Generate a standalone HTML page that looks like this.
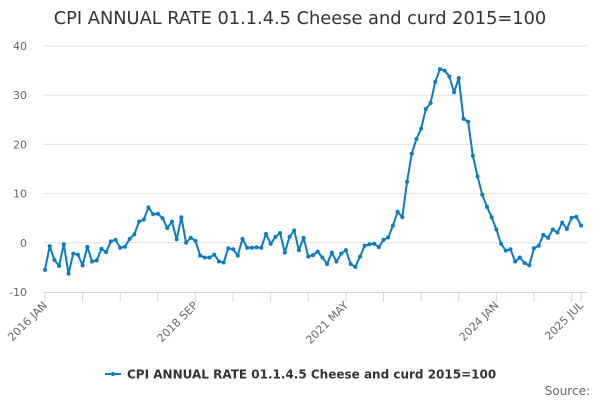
<!DOCTYPE html>
<html><head><meta charset="utf-8"><style>
body{margin:0;background:#fff;}
svg{display:block;font-family:"DejaVu Sans","Liberation Sans",sans-serif;}
</style></head><body>
<svg id="chart" width="600" height="400">
<text x="300" y="24" text-anchor="middle" font-size="17.8" fill="#333">CPI ANNUAL RATE 01.1.4.5 Cheese and curd 2015=100</text>
<g id="grid"></g><g id="yt"></g><g id="xt"></g><g id="series"></g>
<g transform="translate(105,374)">
<line x1="0" y1="0" x2="16" y2="0" stroke="#0a7cc0" stroke-width="2"/><circle cx="8" cy="0" r="2" fill="#0a7cc0"/>
<text x="22" y="4.5" font-size="12" font-weight="bold" fill="#333">CPI ANNUAL RATE 01.1.4.5 Cheese and curd 2015=100</text></g>
<text x="590" y="395" text-anchor="end" font-size="12" fill="#666">Source:</text>
</svg>
<script>
const values=[-5.5,-0.7,-3.5,-4.7,-0.3,-6.3,-2.2,-2.4,-4.6,-0.8,-3.8,-3.6,
-1.2,-1.9,0.3,0.6,-1.0,-0.8,0.8,1.7,4.3,4.7,7.2,5.8,
5.9,5.0,3.0,4.3,0.7,5.2,0.0,1.0,0.4,-2.6,-3.0,-3.0,
-2.4,-3.8,-4.0,-1.1,-1.3,-2.6,0.8,-1.0,-1.0,-0.9,-1.0,1.8,
-0.2,1.2,2.0,-2.0,1.2,2.5,-1.5,1.0,-2.8,-2.5,-1.8,-3.0,
-4.3,-2.0,-3.8,-2.2,-1.5,-4.3,-4.9,-2.8,-0.6,-0.3,-0.2,-0.9,
0.6,1.1,3.5,6.3,5.2,12.4,18.1,21.1,23.2,27.2,28.4,32.7,
35.3,35.0,33.8,30.6,33.5,25.2,24.6,17.7,13.5,9.8,7.3,5.2,
2.7,-0.2,-1.6,-1.3,-3.8,-3.0,-4.1,-4.6,-1.1,-0.6,1.6,1.0,
2.7,2.1,4.1,2.8,5.1,5.3,3.5];
const yTicks=[40,30,20,10,0,-10];
const xLabelIdx=[0,32,64,96,114];
const xLabels=["2016 JAN","2018 SEP","2021 MAY","2024 JAN","2025 JUL"];
const NS="http://www.w3.org/2000/svg";
const x0=45,x1=581,yTop=46,yBot=292,vMax=40,vMin=-10;
const X=i=>x0+i*(x1-x0)/(values.length-1);
const Y=v=>yBot-(v-vMin)*(yBot-yTop)/(vMax-vMin);
function mk(t,a,p){const e=document.createElementNS(NS,t);for(const k in a)e.setAttribute(k,a[k]);p.appendChild(e);return e;}
const grid=document.getElementById('grid'),yt=document.getElementById('yt'),xt=document.getElementById('xt'),ser=document.getElementById('series');
yTicks.forEach(v=>{
 if(v!==vMin){const g=mk('line',{x1:43,x2:587,y1:Y(v),y2:Y(v),stroke:'#e0e0e0','stroke-width':1},grid);
 
 }
 const t=mk('text',{x:27,y:Y(v)+4,'text-anchor':'end','font-size':11,fill:'#666'},yt);t.textContent=v;
 
 
});
const ax=mk('line',{x1:43,x2:587,y1:yBot+0.5,y2:yBot+0.5,stroke:'#ccd6eb','stroke-width':1},xt);


const tickIdx=[];for(let i=0;i<values.length;i+=8)tickIdx.push(i);tickIdx.push(values.length-1);
tickIdx.forEach(i=>{const l=mk('line',{x1:X(i),x2:X(i),y1:yBot,y2:yBot+10,stroke:'#ccd6eb'},xt);
 
 });
xLabelIdx.forEach((i,k)=>{const t=mk('text',{x:X(i)+3,y:yBot+14,'text-anchor':'end','font-size':11,fill:'#666',transform:`rotate(-45 ${X(i)+3} ${yBot+14})`},xt);
 t.textContent=xLabels[k];
 
 });
const line=mk('polyline',{points:values.map((v,i)=>X(i)+','+Y(v)).join(' '),fill:'none',stroke:'#0a7cc0','stroke-width':2,'stroke-linejoin':'round'},ser);


values.forEach((v,i)=>{const c=mk('circle',{cx:X(i),cy:Y(v),r:2,fill:'#0a7cc0'},ser);
 
 });
</script>
</body></html>
